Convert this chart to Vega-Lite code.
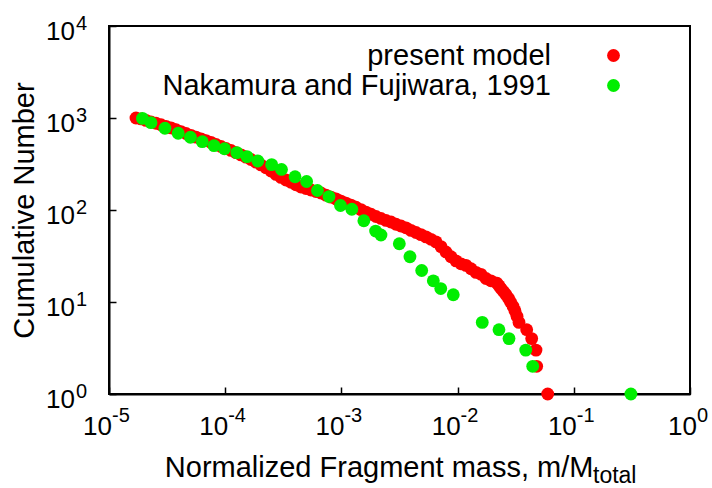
{
  "$schema": "https://vega.github.io/schema/vega-lite/v6.json",
  "width": 581,
  "height": 368,
  "autosize": "none",
  "padding": {"left": 109, "top": 26, "right": 22, "bottom": 94},
  "background": "white",
  "config": {
    "font": "Liberation Sans",
    "view": {"stroke": "black", "strokeWidth": 2},
    "text": {"font": "Liberation Sans", "color": "black"}
  },
  "datasets": {
    "points": [
      {"m": 1.707e-5, "n": 1000, "series": "present model"},
      {"m": 1.886e-5, "n": 977, "series": "present model"},
      {"m": 2.082e-5, "n": 943, "series": "present model"},
      {"m": 2.298e-5, "n": 909, "series": "present model"},
      {"m": 2.538e-5, "n": 876, "series": "present model"},
      {"m": 2.803e-5, "n": 844, "series": "present model"},
      {"m": 3.095e-5, "n": 812, "series": "present model"},
      {"m": 3.417e-5, "n": 781, "series": "present model"},
      {"m": 3.773e-5, "n": 745, "series": "present model"},
      {"m": 4.166e-5, "n": 711, "series": "present model"},
      {"m": 4.600e-5, "n": 679, "series": "present model"},
      {"m": 5.079e-5, "n": 648, "series": "present model"},
      {"m": 5.608e-5, "n": 620, "series": "present model"},
      {"m": 6.192e-5, "n": 593, "series": "present model"},
      {"m": 6.837e-5, "n": 568, "series": "present model"},
      {"m": 7.549e-5, "n": 543, "series": "present model"},
      {"m": 8.335e-5, "n": 516, "series": "present model"},
      {"m": 9.203e-5, "n": 491, "series": "present model"},
      {"m": 1.016e-4, "n": 467, "series": "present model"},
      {"m": 1.122e-4, "n": 444, "series": "present model"},
      {"m": 1.239e-4, "n": 420, "series": "present model"},
      {"m": 1.368e-4, "n": 397, "series": "present model"},
      {"m": 1.510e-4, "n": 375, "series": "present model"},
      {"m": 1.667e-4, "n": 354, "series": "present model"},
      {"m": 1.841e-4, "n": 331, "series": "present model"},
      {"m": 2.033e-4, "n": 309, "series": "present model"},
      {"m": 2.244e-4, "n": 288, "series": "present model"},
      {"m": 2.478e-4, "n": 265, "series": "present model"},
      {"m": 2.736e-4, "n": 244, "series": "present model"},
      {"m": 3.021e-4, "n": 226, "series": "present model"},
      {"m": 3.336e-4, "n": 212, "series": "present model"},
      {"m": 3.683e-4, "n": 200, "series": "present model"},
      {"m": 4.067e-4, "n": 188, "series": "present model"},
      {"m": 4.490e-4, "n": 178, "series": "present model"},
      {"m": 4.958e-4, "n": 171, "series": "present model"},
      {"m": 5.474e-4, "n": 165, "series": "present model"},
      {"m": 6.044e-4, "n": 159, "series": "present model"},
      {"m": 6.674e-4, "n": 153, "series": "present model"},
      {"m": 7.369e-4, "n": 145, "series": "present model"},
      {"m": 8.136e-4, "n": 138, "series": "present model"},
      {"m": 8.984e-4, "n": 132, "series": "present model"},
      {"m": 9.92e-4, "n": 125, "series": "present model"},
      {"m": 1.095e-3, "n": 119, "series": "present model"},
      {"m": 1.209e-3, "n": 113, "series": "present model"},
      {"m": 1.335e-3, "n": 107, "series": "present model"},
      {"m": 1.474e-3, "n": 101, "series": "present model"},
      {"m": 1.628e-3, "n": 95, "series": "present model"},
      {"m": 1.797e-3, "n": 90, "series": "present model"},
      {"m": 1.985e-3, "n": 85, "series": "present model"},
      {"m": 2.191e-3, "n": 81, "series": "present model"},
      {"m": 2.419e-3, "n": 77, "series": "present model"},
      {"m": 2.672e-3, "n": 74, "series": "present model"},
      {"m": 2.950e-3, "n": 70, "series": "present model"},
      {"m": 3.257e-3, "n": 67, "series": "present model"},
      {"m": 3.596e-3, "n": 64, "series": "present model"},
      {"m": 3.971e-3, "n": 60, "series": "present model"},
      {"m": 4.385e-3, "n": 57, "series": "present model"},
      {"m": 4.842e-3, "n": 54, "series": "present model"},
      {"m": 5.346e-3, "n": 51, "series": "present model"},
      {"m": 5.902e-3, "n": 48, "series": "present model"},
      {"m": 6.517e-3, "n": 45, "series": "present model"},
      {"m": 7.197e-3, "n": 40, "series": "present model"},
      {"m": 7.946e-3, "n": 35, "series": "present model"},
      {"m": 8.774e-3, "n": 31, "series": "present model"},
      {"m": 9.687e-3, "n": 28, "series": "present model"},
      {"m": 1.070e-2, "n": 26, "series": "present model"},
      {"m": 1.181e-2, "n": 25, "series": "present model"},
      {"m": 1.304e-2, "n": 23, "series": "present model"},
      {"m": 1.440e-2, "n": 21, "series": "present model"},
      {"m": 1.590e-2, "n": 20, "series": "present model"},
      {"m": 1.755e-2, "n": 18, "series": "present model"},
      {"m": 1.938e-2, "n": 17, "series": "present model"},
      {"m": 2.183e-2, "n": 16, "series": "present model"},
      {"m": 2.271e-2, "n": 15, "series": "present model"},
      {"m": 2.363e-2, "n": 14, "series": "present model"},
      {"m": 2.483e-2, "n": 13, "series": "present model"},
      {"m": 2.609e-2, "n": 12, "series": "present model"},
      {"m": 2.742e-2, "n": 11, "series": "present model"},
      {"m": 2.852e-2, "n": 10, "series": "present model"},
      {"m": 2.998e-2, "n": 9, "series": "present model"},
      {"m": 3.119e-2, "n": 8, "series": "present model"},
      {"m": 3.245e-2, "n": 7, "series": "present model"},
      {"m": 3.376e-2, "n": 6, "series": "present model"},
      {"m": 3.933e-2, "n": 5, "series": "present model"},
      {"m": 4.342e-2, "n": 4, "series": "present model"},
      {"m": 4.727e-2, "n": 3, "series": "present model"},
      {"m": 4.793e-2, "n": 2, "series": "present model"},
      {"m": 5.963e-2, "n": 1, "series": "present model"},
      {"m": 1.94e-5, "n": 990, "series": "Nakamura and Fujiwara, 1991"},
      {"m": 2.30e-5, "n": 889, "series": "Nakamura and Fujiwara, 1991"},
      {"m": 3.03e-5, "n": 773, "series": "Nakamura and Fujiwara, 1991"},
      {"m": 3.94e-5, "n": 682, "series": "Nakamura and Fujiwara, 1991"},
      {"m": 5.02e-5, "n": 617, "series": "Nakamura and Fujiwara, 1991"},
      {"m": 6.35e-5, "n": 553, "series": "Nakamura and Fujiwara, 1991"},
      {"m": 8.02e-5, "n": 500, "series": "Nakamura and Fujiwara, 1991"},
      {"m": 9.86e-5, "n": 463, "series": "Nakamura and Fujiwara, 1991"},
      {"m": 1.26e-4, "n": 420, "series": "Nakamura and Fujiwara, 1991"},
      {"m": 1.54e-4, "n": 380, "series": "Nakamura and Fujiwara, 1991"},
      {"m": 1.91e-4, "n": 341, "series": "Nakamura and Fujiwara, 1991"},
      {"m": 2.51e-4, "n": 311, "series": "Nakamura and Fujiwara, 1991"},
      {"m": 3.05e-4, "n": 276, "series": "Nakamura and Fujiwara, 1991"},
      {"m": 3.99e-4, "n": 230, "series": "Nakamura and Fujiwara, 1991"},
      {"m": 5.02e-4, "n": 204, "series": "Nakamura and Fujiwara, 1991"},
      {"m": 6.22e-4, "n": 163, "series": "Nakamura and Fujiwara, 1991"},
      {"m": 7.82e-4, "n": 140, "series": "Nakamura and Fujiwara, 1991"},
      {"m": 9.82e-4, "n": 112, "series": "Nakamura and Fujiwara, 1991"},
      {"m": 1.23e-3, "n": 102, "series": "Nakamura and Fujiwara, 1991"},
      {"m": 1.56e-3, "n": 76.5, "series": "Nakamura and Fujiwara, 1991"},
      {"m": 1.97e-3, "n": 59, "series": "Nakamura and Fujiwara, 1991"},
      {"m": 2.19e-3, "n": 53.5, "series": "Nakamura and Fujiwara, 1991"},
      {"m": 3.15e-3, "n": 43, "series": "Nakamura and Fujiwara, 1991"},
      {"m": 3.89e-3, "n": 31, "series": "Nakamura and Fujiwara, 1991"},
      {"m": 4.91e-3, "n": 22, "series": "Nakamura and Fujiwara, 1991"},
      {"m": 6.18e-3, "n": 17, "series": "Nakamura and Fujiwara, 1991"},
      {"m": 7.16e-3, "n": 14, "series": "Nakamura and Fujiwara, 1991"},
      {"m": 9.18e-3, "n": 12, "series": "Nakamura and Fujiwara, 1991"},
      {"m": 1.63e-2, "n": 6, "series": "Nakamura and Fujiwara, 1991"},
      {"m": 2.27e-2, "n": 5, "series": "Nakamura and Fujiwara, 1991"},
      {"m": 2.77e-2, "n": 4, "series": "Nakamura and Fujiwara, 1991"},
      {"m": 3.86e-2, "n": 3, "series": "Nakamura and Fujiwara, 1991"},
      {"m": 4.43e-2, "n": 2, "series": "Nakamura and Fujiwara, 1991"},
      {"m": 0.310, "n": 1, "series": "Nakamura and Fujiwara, 1991"}
    ],
    "xlabels": [
      {"v": 0.00001, "e": "-5"},
      {"v": 0.0001, "e": "-4"},
      {"v": 0.001, "e": "-3"},
      {"v": 0.01, "e": "-2"},
      {"v": 0.1, "e": "-1"}
    ],
    "xlabel0": [{"v": 1, "e": "0"}],
    "ylabels": [
      {"v": 1, "e": "0"},
      {"v": 10, "e": "1"},
      {"v": 100, "e": "2"},
      {"v": 1000, "e": "3"},
      {"v": 10000, "e": "4"}
    ],
    "subscript": [{"v": 0.1463, "t": "total"}]
  },
  "layer": [
    {
      "data": {"name": "points"},
      "mark": {"type": "circle", "size": 165, "opacity": 1},
      "encoding": {
        "x": {
          "field": "m", "type": "quantitative",
          "scale": {"type": "log", "domain": [0.00001, 1]},
          "axis": {
            "title": "Normalized Fragment mass, m/M",
            "values": [0.00001, 0.0001, 0.001, 0.01, 0.1, 1],
            "labels": false, "grid": false,
            "tickSize": -7, "tickWidth": 1.5, "tickColor": "black",
            "domainColor": "black", "domainWidth": 2,
            "titleFont": "Liberation Sans", "titleFontSize": 29, "titleFontWeight": "normal", "titleColor": "black",
            "titleAlign": "right", "titleBaseline": "alphabetic", "titleX": 484, "titleY": 82
          }
        },
        "y": {
          "field": "n", "type": "quantitative",
          "scale": {"type": "log", "domain": [1, 10000]},
          "axis": {
            "title": "Cumulative Number",
            "values": [1, 10, 100, 1000, 10000],
            "labels": false, "grid": false,
            "tickSize": -7, "tickWidth": 1.5, "tickColor": "black",
            "domainColor": "black", "domainWidth": 2,
            "titleFont": "Liberation Sans", "titleFontSize": 29, "titleFontWeight": "normal", "titleColor": "black",
            "titleAngle": -90, "titleAlign": "center", "titleBaseline": "alphabetic", "titleX": -76, "titleY": 184
          }
        },
        "color": {
          "field": "series", "type": "nominal",
          "scale": {"domain": ["present model", "Nakamura and Fujiwara, 1991"], "range": ["#ff0000", "#00ee00"]},
          "legend": {
            "orient": "none", "legendX": 490, "legendY": 15, "title": null,
            "labelFont": "Liberation Sans", "labelFontSize": 29, "labelColor": "black",
            "labelAlign": "right", "labelOffset": -77, "labelLimit": 1000,
            "symbolType": "circle", "symbolSize": 165, "symbolStrokeWidth": 0, "symbolOpacity": 1,
            "rowPadding": -2, "padding": 0
          }
        }
      }
    },
    {
      "data": {"name": "xlabels"},
      "mark": {"type": "text", "text": "10", "align": "right", "baseline": "alphabetic", "dx": 3, "dy": 41, "fontSize": 26},
      "encoding": {"x": {"field": "v", "type": "quantitative"}, "y": {"datum": 1}}
    },
    {
      "data": {"name": "xlabels"},
      "mark": {"type": "text", "align": "left", "baseline": "alphabetic", "dx": 3, "dy": 28, "fontSize": 20},
      "encoding": {"x": {"field": "v", "type": "quantitative"}, "y": {"datum": 1}, "text": {"field": "e"}}
    },
    {
      "data": {"name": "xlabel0"},
      "mark": {"type": "text", "text": "10", "align": "right", "baseline": "alphabetic", "dx": 7, "dy": 41, "fontSize": 26},
      "encoding": {"x": {"field": "v", "type": "quantitative"}, "y": {"datum": 1}}
    },
    {
      "data": {"name": "xlabel0"},
      "mark": {"type": "text", "align": "left", "baseline": "alphabetic", "dx": 7, "dy": 28, "fontSize": 20},
      "encoding": {"x": {"field": "v", "type": "quantitative"}, "y": {"datum": 1}, "text": {"field": "e"}}
    },
    {
      "data": {"name": "ylabels"},
      "mark": {"type": "text", "text": "10", "align": "right", "baseline": "alphabetic", "dx": -34, "dy": 14, "fontSize": 26},
      "encoding": {"x": {"datum": 0.00001}, "y": {"field": "v", "type": "quantitative"}}
    },
    {
      "data": {"name": "ylabels"},
      "mark": {"type": "text", "align": "left", "baseline": "alphabetic", "dx": -33, "dy": 4, "fontSize": 20},
      "encoding": {"x": {"datum": 0.00001}, "y": {"field": "v", "type": "quantitative"}, "text": {"field": "e"}}
    },
    {
      "data": {"name": "subscript"},
      "mark": {"type": "text", "align": "left", "baseline": "alphabetic", "dx": 0, "dy": 89, "fontSize": 23},
      "encoding": {"x": {"field": "v", "type": "quantitative"}, "y": {"datum": 1}, "text": {"field": "t"}}
    }
  ]
}
